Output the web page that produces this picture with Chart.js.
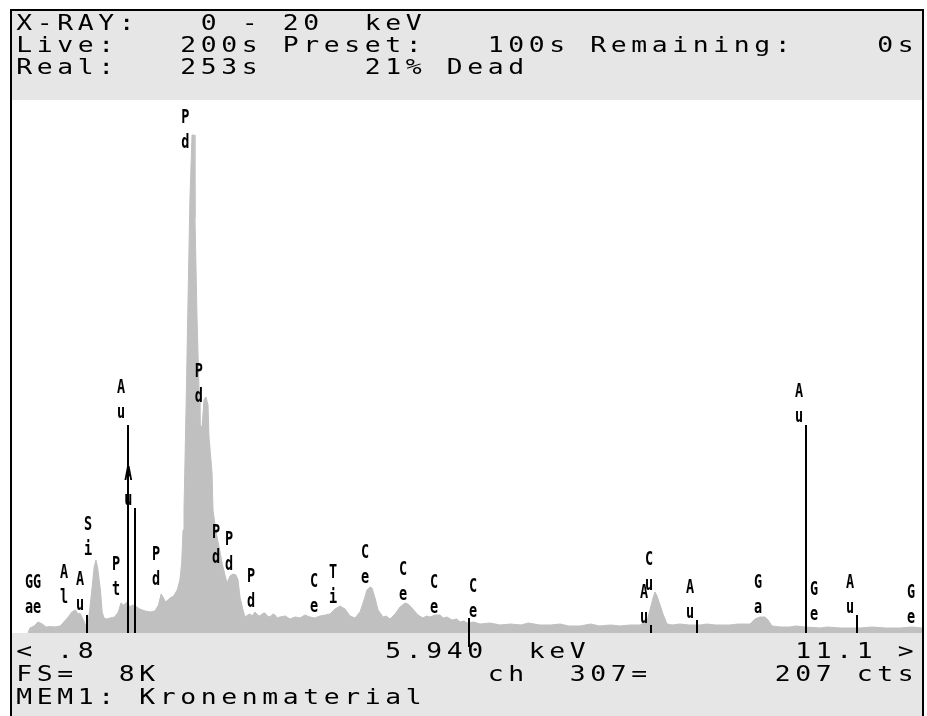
<!DOCTYPE html>
<html>
<head>
<meta charset="utf-8">
<script src="https://cdn.jsdelivr.net/npm/chart.js@4.4.1/dist/chart.umd.min.js"></script>
<style>
  html, body { margin: 0; padding: 0; background: #fff; }
  canvas { display: block; }
</style>
</head>
<body>
<canvas id="spectrum" width="927" height="716"></canvas>
<script>
// spectrum: energy (keV) and counts per point
const energy = [
  1.00, 1.02, 1.07, 1.11, 1.16, 1.20, 1.25, 1.30, 1.36, 1.40, 1.45, 1.49, 1.53, 1.56, 1.58, 1.62,
  1.65, 1.67, 1.69, 1.72, 1.74, 1.76, 1.78, 1.81, 1.83, 1.85, 1.88, 1.92, 1.97, 2.01, 2.04, 2.07,
  2.11, 2.14, 2.17, 2.20, 2.25, 2.31, 2.37, 2.42, 2.46, 2.49, 2.51, 2.54, 2.59, 2.63, 2.67, 2.70,
  2.72, 2.735, 2.746, 2.768, 2.791, 2.813, 2.836, 2.858, 2.869, 2.892, 2.914, 2.925, 2.948, 2.970,
  2.992, 3.015, 3.026, 3.048, 3.060, 3.071, 3.093, 3.116, 3.149, 3.172, 3.205, 3.228, 3.261, 3.295,
  3.328, 3.351, 3.373, 3.407, 3.429, 3.46, 3.485, 3.51, 3.541, 3.57, 3.597, 3.625, 3.653, 3.68,
  3.709, 3.74, 3.765, 3.79, 3.821, 3.88, 3.933, 3.99, 4.045, 4.10, 4.157, 4.21, 4.269, 4.33, 4.381,
  4.437, 4.493, 4.549, 4.605, 4.661, 4.717, 4.762, 4.795, 4.829, 4.851, 4.885, 4.919, 4.975, 5.01,
  5.053, 5.109, 5.165, 5.221, 5.254, 5.299, 5.366, 5.422, 5.46, 5.501, 5.557, 5.613, 5.65, 5.691,
  5.747, 5.80, 5.837, 5.88, 5.915, 5.99, 6.061, 6.17, 6.285, 6.40, 6.52, 6.60, 6.733, 6.85, 6.96,
  7.05, 7.181, 7.30, 7.40, 7.52, 7.629, 7.75, 7.853, 7.931, 7.964, 7.998, 8.020, 8.043, 8.077, 8.110,
  8.155, 8.211, 8.30, 8.40, 8.524, 8.60, 8.70, 8.860, 8.95, 9.084, 9.140, 9.196, 9.252, 9.286, 9.330,
  9.43, 9.532, 9.60, 9.70, 9.868, 9.95, 10.10, 10.316, 10.45, 10.60, 10.764, 10.90, 11.01
];
const counts = [
  0, 77, 108, 169, 138, 92, 100, 92, 108, 169, 246, 323, 354, 292, 307, 200,
  92, 123, 354, 738, 1014, 1122, 999, 661, 323, 231, 215, 231, 246, 323, 461, 430,
  476, 400, 430, 415, 369, 338, 323, 338, 430, 599, 553, 476, 538, 569, 661, 815,
  1076, 1583, 1891, 3381, 5118, 6701, 7654, 7654, 6379, 4842, 3735, 3197, 3166, 3581,
  3627, 3504, 3013, 2659, 2459, 1891, 1660, 1476, 1245, 1076, 891, 769, 876, 907,
  891, 815, 553, 354, 246, 277, 292, 261, 323, 277, 261, 300, 307, 261,
  246, 292, 277, 231, 246, 261, 215, 246, 231, 277, 246, 231, 261, 277, 292,
  369, 415, 369, 261, 231, 323, 507, 661, 707, 692, 538, 354, 246, 261,
  215, 292, 400, 461, 446, 384, 277, 231, 261, 246, 277, 277, 231, 246,
  200, 215, 169, 184, 154, 169, 138, 154, 123, 138, 123, 154, 123, 123, 138,
  108, 108, 138, 108, 123, 108, 123, 123, 184, 354, 538, 630, 569, 430, 292,
  138, 123, 138, 123, 123, 138, 123, 123, 138, 138, 215, 246, 246, 200, 108,
  92, 92, 108, 92, 77, 92, 77, 77, 92, 77, 77, 92, 77
];

// KLM markers: element, energy (keV), counts where the label sits, counts of line top (0 = no line)
const markerElement = ['Ga', 'Ge', 'Al', 'Au', 'Si', 'Pt', 'Au', 'Au', 'Pd', 'Pd', 'Pd', 'Pd', 'Pd', 'Pd',
  'Ce', 'Ti', 'Ce', 'Ce', 'Ce', 'Ce', 'Au', 'Cu', 'Au', 'Ga', 'Au', 'Ge', 'Au', 'Ge'];
const markerEnergy = [1.089, 1.178, 1.481, 1.660, 1.749, 2.063, 2.120, 2.200, 2.511, 2.838, 2.990, 3.183, 3.328, 3.575,
  4.280, 4.493, 4.852, 5.277, 5.624, 6.061, 7.976, 8.032, 8.491, 9.252, 9.711, 9.879, 10.282, 10.966];
const markerLabelAt = [307, 307, 461, 354, 1199, 584, 3305, 1967, 738, 7454, 3550, 1076, 968, 400,
  323, 461, 769, 507, 307, 246, 154, 661, 231, 307, 3243, 200, 307, 154];
const markerLineTop = [0, 0, 0, 277, 0, 0, 3197, 1921, 0, 0, 0, 0, 0, 0,
  0, 0, 0, 0, 0, 0, 123, 0, 200, 0, 3197, 0, 277, 0];

// cursor
const cursorEnergy = 5.94;
const cursorCounts = 230;

const fullScale = 8192;     // FS= 8K
const keVMin = 0.82;
const keVMax = 11.01;

// screen text, fixed 44 column grid
const headerRows = [
  'X-RAY:   0 - 20  keV',
  'Live:   200s Preset:   100s Remaining:    0s',
  'Real:   253s     21% Dead'
];
const footerRows = [
  '< .8              5.940  keV          11.1 >',
  'FS=  8K                ch  307=      207 cts',
  'MEM1: Kronenmaterial'
];

const CELL = 20.5, COL0 = 14;
const GRAY = '#e6e6e6';

function drawRow(ctx, text, baseline) {
  for (let i = 0; i < text.length; i++) {
    if (text[i] === ' ') continue;
    ctx.save();
    ctx.translate(COL0 + i * CELL + CELL / 2, baseline);
    ctx.scale(1.2, 1);
    ctx.fillText(text[i], 0, 0);
    ctx.restore();
  }
}

const screenPlugin = {
  id: 'screen',
  beforeDraw(chart) {
    const ctx = chart.ctx, a = chart.chartArea;
    ctx.save();
    ctx.fillStyle = '#fff';
    ctx.fillRect(0, 0, chart.width, chart.height);
    ctx.fillStyle = GRAY;
    ctx.fillRect(a.left, 11, a.right - a.left, a.top - 11);
    ctx.fillRect(a.left, a.bottom, a.right - a.left, chart.height - a.bottom);
    ctx.fillStyle = '#000';
    ctx.fillRect(a.left - 2, 9, 2, chart.height);
    ctx.fillRect(a.left - 2, 9, a.right - a.left + 4, 2);
    ctx.fillRect(a.right, 9, 2, chart.height);
    ctx.restore();
  },
  afterDatasetsDraw(chart) {
    const ctx = chart.ctx, xs = chart.scales.x, ys = chart.scales.y;
    const base = ys.getPixelForValue(0);
    ctx.save();
    ctx.strokeStyle = '#000';
    ctx.fillStyle = '#000';
    ctx.lineWidth = 2;
    // marker lines
    markerEnergy.forEach((e, i) => {
      if (!markerLineTop[i]) return;
      const x = Math.round(xs.getPixelForValue(e));
      ctx.beginPath();
      ctx.moveTo(x, ys.getPixelForValue(markerLineTop[i]));
      ctx.lineTo(x, base);
      ctx.stroke();
    });
    // cursor line
    const cx = Math.round(xs.getPixelForValue(cursorEnergy));
    ctx.beginPath();
    ctx.moveTo(cx, ys.getPixelForValue(cursorCounts));
    ctx.lineTo(cx, base + 14);
    ctx.stroke();
    // marker labels, letters stacked
    ctx.font = 'bold 18px "DejaVu Sans Mono"';
    ctx.textAlign = 'center';
    ctx.textBaseline = 'alphabetic';
    markerEnergy.forEach((e, i) => {
      const x = xs.getPixelForValue(e) - 7;
      const y = ys.getPixelForValue(markerLabelAt[i]);
      const el = markerElement[i];
      [el[0], el[1]].forEach((ch, k) => {
        ctx.save();
        ctx.translate(x, y - (1 - k) * 25);
        ctx.scale(0.75, 1.05);
        ctx.fillText(ch, 0, 0);
        ctx.restore();
      });
    });
    ctx.restore();
  },
  afterDraw(chart) {
    const ctx = chart.ctx;
    ctx.save();
    ctx.fillStyle = '#000';
    ctx.font = '22px "DejaVu Sans Mono"';
    ctx.textAlign = 'center';
    ctx.textBaseline = 'alphabetic';
    headerRows.forEach((row, i) => drawRow(ctx, row, 30 + i * 22));
    footerRows.forEach((row, i) => drawRow(ctx, row, 658 + i * 23));
    ctx.restore();
  }
};

new Chart(document.getElementById('spectrum').getContext('2d'), {
  type: 'line',
  data: {
    datasets: [{
      data: energy.map((e, i) => ({ x: e, y: counts[i] })),
      fill: 'origin',
      backgroundColor: '#c0c0c0',
      borderColor: '#c0c0c0',
      borderWidth: 1,
      pointRadius: 0,
      tension: 0
    }]
  },
  options: {
    responsive: false,
    animation: false,
    layout: { padding: { left: 12, right: 5, top: 100, bottom: 83 } },
    plugins: { legend: { display: false }, tooltip: { enabled: false } },
    scales: {
      x: { type: 'linear', min: keVMin, max: keVMax, display: false },
      y: { min: 0, max: fullScale, display: false }
    }
  },
  plugins: [screenPlugin]
});
</script>
</body>
</html>
